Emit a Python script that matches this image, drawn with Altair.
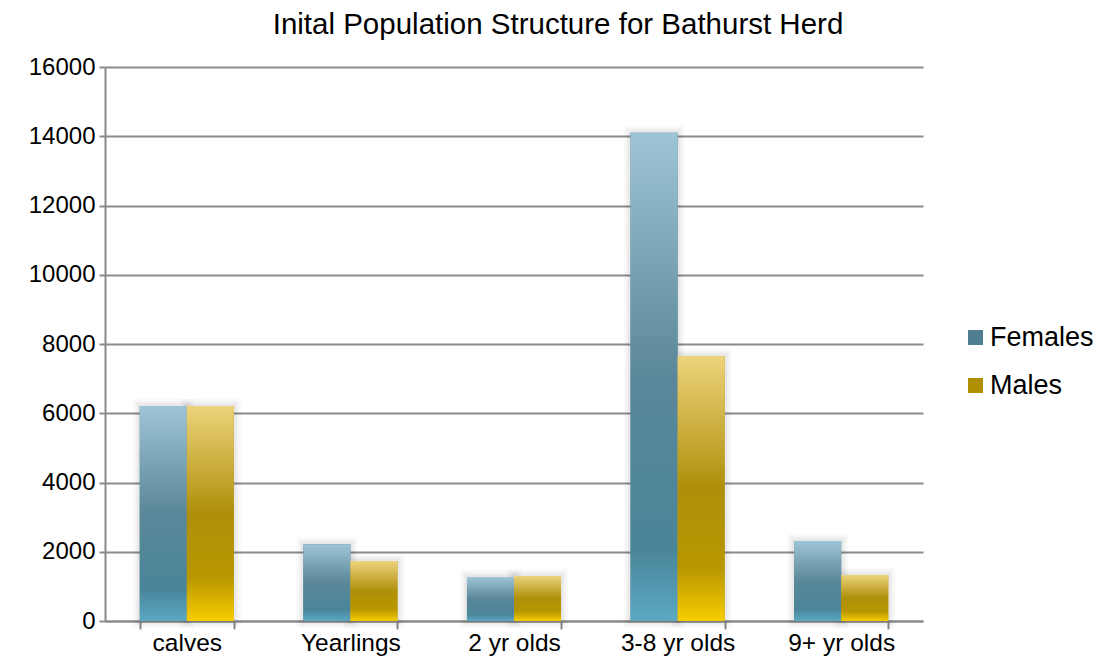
import altair as alt
import pandas as pd

categories = ["calves", "Yearlings", "2 yr olds", "3-8 yr olds", "9+ yr olds"]
series = ["Females", "Males"]
females = [6210, 2220, 1270, 14100, 2310]
males = [6210, 1730, 1300, 7650, 1330]
y_ticks = [0, 2000, 4000, 6000, 8000, 10000, 12000, 14000, 16000]
title_text = "Inital Population Structure for Bathurst Herd"

rows = []
for c, f, m in zip(categories, females, males):
    rows.append({"category": c, "series": "Females", "value": f})
    rows.append({"category": c, "series": "Males", "value": m})
df = pd.DataFrame(rows)

FONT = "Liberation Sans"
GRID = "#8A8A8A"

x_enc = alt.X(
    "category:N",
    sort=categories,
    scale=alt.Scale(paddingInner=0.425, paddingOuter=0.2125),
    axis=alt.Axis(
        title=None, labelAngle=0, tickBand="extent", tickSize=8, tickWidth=2,
        tickColor=GRID, domainColor=GRID, domainWidth=2, labelFontSize=24.5,
        labelColor="black", labelFont=FONT, labelPadding=2, grid=False,
    ),
)
y_enc = alt.Y(
    "value:Q",
    scale=alt.Scale(domain=[0, 16000], nice=False),
    axis=alt.Axis(
        title=None, values=y_ticks, format="d", grid=True, gridColor=GRID,
        gridWidth=2, domainColor=GRID, domainWidth=2, tickColor=GRID,
        tickWidth=2, tickSize=6, labelFontSize=24, labelColor="black",
        labelFont=FONT, labelPadding=4,
    ),
)
xo_enc = alt.XOffset("series:N", scale=alt.Scale(domain=series, paddingInner=0, paddingOuter=0))

base = alt.Chart(df).encode(x=x_enc, y=y_enc, xOffset=xo_enc)

shadow_layers = [
    base.mark_bar(fill="transparent", stroke="#000000", strokeOpacity=op, strokeWidth=w)
    for w, op in [(14, 0.025), (9, 0.03), (5, 0.035)]
]

legend_layer = base.mark_bar().encode(
    color=alt.Color(
        "series:N",
        scale=alt.Scale(domain=series, range=["#4E7E90", "#B09000"]),
        legend=alt.Legend(
            title=None, orient="none", legendX=857, legendY=257,
            symbolType="square", symbolSize=225, symbolStrokeWidth=0,
            labelFontSize=27, labelFont=FONT, labelColor="black",
            rowPadding=20, labelOffset=1,
        ),
    )
)

fem_grad = alt.Gradient(
    gradient="linear", x1=0, x2=0, y1=0, y2=1,
    stops=[
        alt.GradientStop(color="#9EC5D5", offset=0),
        alt.GradientStop(color="#5A8799", offset=0.5),
        alt.GradientStop(color="#4A8599", offset=0.85),
        alt.GradientStop(color="#5BA8C3", offset=1),
    ],
)
male_grad = alt.Gradient(
    gradient="linear", x1=0, x2=0, y1=0, y2=1,
    stops=[
        alt.GradientStop(color="#EDD37C", offset=0),
        alt.GradientStop(color="#AE8F0A", offset=0.5),
        alt.GradientStop(color="#B89700", offset=0.8),
        alt.GradientStop(color="#F7CD00", offset=1),
    ],
)

fem_layer = base.mark_bar(fill=fem_grad).transform_filter(alt.datum.series == "Females")
male_layer = base.mark_bar(fill=male_grad).transform_filter(alt.datum.series == "Males")

chart = alt.layer(*shadow_layers, legend_layer, fem_layer, male_layer).properties(
    width=818,
    height=554,
    autosize=alt.AutoSizeParams(type="none"),
    padding={"left": 97, "top": 59, "right": 174, "bottom": 38},
    title=alt.TitleParams(
        title_text, fontSize=29.5, font=FONT, fontWeight="normal", color="black",
        anchor="middle", offset=15, dx=44,
    ),
).configure_view(stroke=None)

chart.save("out.html", embed_options={"renderer": "svg", "actions": False})
